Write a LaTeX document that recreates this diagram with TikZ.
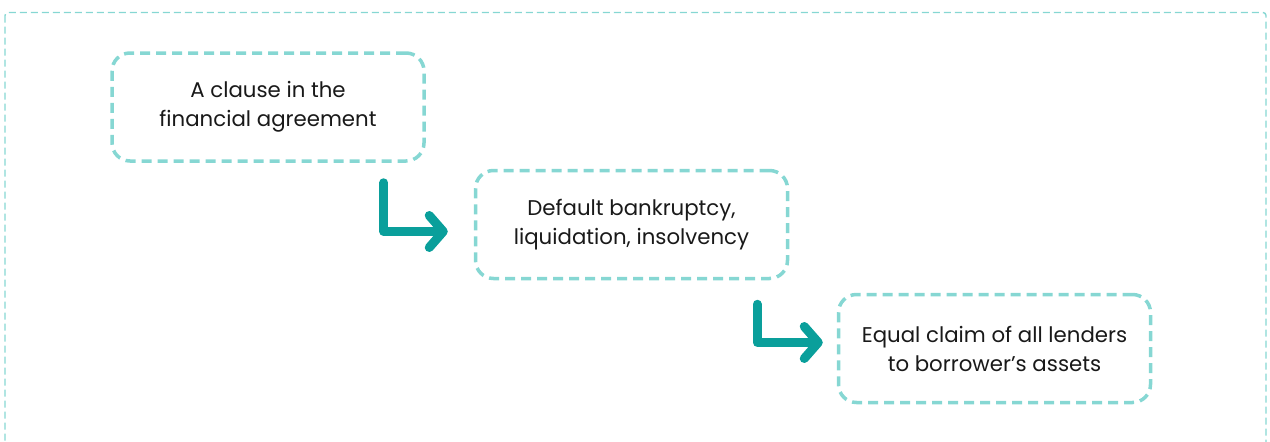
\documentclass[tikz,border=0pt]{standalone}
\usepackage{fontspec}
\setmainfont{Poppins}
\usetikzlibrary{arrows.meta}
\definecolor{boxline}{HTML}{86D7D3}
\definecolor{arrowc}{HTML}{0A9F9B}
\begin{document}
\begin{tikzpicture}[x=1pt,y=-1pt,
  stepbox/.style={draw=boxline, line width=3.5pt, dash pattern=on 10pt off 6pt, rounded corners=18pt,
    minimum width=312pt, minimum height=108pt, align=center, font=\fontsize{21.3}{29}\selectfont, text=black!90},
  flow/.style={draw=arrowc, line width=9pt, line cap=round, line join=round,
    -{Straight Barb[length=14pt,width=32pt,round]}}]
\useasboundingbox (0,0) rectangle (1270,442);
\draw[boxline, line width=1.4pt, dash pattern=on 7pt off 4pt, rounded corners=3pt] (5,12.5) rectangle (1266,460);
\node[stepbox] (b1) at (268,107) {A clause in the\\financial agreement};
\node[stepbox] (b2) at (631.5,224.5) {Default bankruptcy,\\liquidation, insolvency};
\node[stepbox] (b3) at (994.5,348.5) {Equal claim of all lenders\\to borrower’s assets};
\draw[flow] ([xshift=-42pt,yshift=-20pt]b1.south east) |- ([xshift=-26pt,yshift=-7pt]b2.west);
\draw[flow] ([xshift=-32pt,yshift=-24pt]b2.south east) |- ([xshift=-14pt,yshift=6pt]b3.west);
\end{tikzpicture}
\end{document}
